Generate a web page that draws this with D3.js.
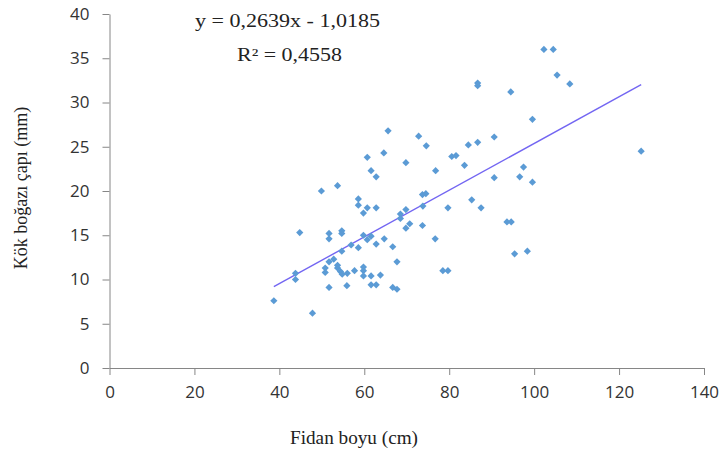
<!DOCTYPE html>
<html>
<head>
<meta charset="utf-8">
<script src="https://cdn.jsdelivr.net/npm/d3@7"></script>
<style>
  body { margin: 0; background: #fff; }
  .axis path, .axis line { stroke: #868686; }
  .axis text { font-family: "Open Sans", sans-serif; font-size: 17px; fill: #333; }
  .title { font-family: "Liberation Serif", serif; font-size: 18px; fill: #222; }
</style>
</head>
<body>
<svg id="chart" width="719" height="455"></svg>
<script>
// Fidan boyu (cm)
const heights = [38.7, 47.8, 43.8, 43.8, 44.8, 49.9, 51.7, 51.7, 51.7, 51.7,
  50.8, 50.8, 52.8, 53.7, 53.7, 53.7, 54.4, 54.8, 54.7, 54.7,
  54.7, 56.0, 55.9, 56.9, 57.7, 58.6, 58.6, 58.6, 59.8, 59.8,
  59.8, 59.8, 59.8, 60.7, 60.7, 60.7, 61.6, 61.6, 61.6, 61.6,
  62.8, 62.8, 62.8, 62.8, 63.8, 64.6, 64.7, 65.6, 66.7, 66.7,
  67.7, 67.7, 68.5, 68.5, 69.8, 69.8, 69.8, 70.7, 72.8, 73.7,
  74.5, 73.8, 73.7, 74.6, 76.7, 76.8, 78.5, 79.7, 79.7, 80.6,
  81.6, 83.6, 84.5, 85.3, 86.7, 86.7, 86.7, 87.5, 90.6, 90.6,
  93.6, 94.6, 94.5, 95.4, 96.6, 97.5, 98.4, 99.6, 99.6, 102.3,
  104.5, 105.4, 108.4, 125.2]
// Kök boğazı çapı (mm)
const diameters = [7.6, 6.2, 10.7, 10.0, 15.3, 20.0, 15.2, 14.6, 12.0, 9.1,
  11.3, 10.8, 12.3, 20.6, 11.6, 11.3, 10.9, 10.6, 15.5, 15.2,
  13.2, 10.7, 9.3, 13.9, 11.0, 19.1, 18.4, 13.6, 17.5, 15.0,
  11.4, 11.0, 10.4, 23.8, 18.1, 14.5, 22.3, 14.9, 10.4, 9.4,
  21.6, 18.1, 14.0, 9.4, 10.5, 24.3, 14.6, 26.8, 13.7, 9.1,
  12.0, 8.9, 17.4, 16.9, 23.2, 17.9, 15.8, 16.3, 26.2, 19.6,
  19.7, 18.3, 16.1, 25.1, 14.6, 22.3, 11.0, 11.0, 18.1, 23.9,
  24.0, 22.9, 25.2, 19.0, 25.5, 32.2, 31.9, 18.1, 26.1, 21.5,
  16.5, 16.5, 31.2, 12.9, 21.6, 22.7, 13.2, 28.1, 21.0, 36.0,
  36.0, 33.1, 32.1, 24.5]

const xTicks = [0, 20, 40, 60, 80, 100, 120, 140]
const yTicks = [0, 5, 10, 15, 20, 25, 30, 35, 40]

const slope = 0.2639
const intercept = -1.0185
const equationText = "y = 0,2639x - 1,0185"
const r2Text = "R² = 0,4558"

const svg = d3.select("#chart")

const xScale = d3.scaleLinear().domain([0, 140]).range([109.5, 704])
const yScale = d3.scaleLinear().domain([0, 40]).range([368, 14])

// axes
svg.append("g")
  .attr("class", "axis")
  .attr("transform", `translate(0, ${yScale(0)})`)
  .call(d3.axisBottom(xScale).tickValues(xTicks).tickSize(7).tickPadding(11).tickSizeOuter(0))

svg.append("g")
  .attr("class", "axis")
  .attr("transform", `translate(${xScale(0)}, 0)`)
  .call(d3.axisLeft(yScale).tickValues(yTicks).tickSize(7).tickPadding(13).tickSizeOuter(0))

const points = heights.map((h, i) => ({ x: h, y: diameters[i] }))

// trend line from min to max x
const xMin = d3.min(heights), xMax = d3.max(heights)
svg.append("line")
  .attr("x1", xScale(xMin))
  .attr("y1", yScale(slope * xMin + intercept))
  .attr("x2", xScale(xMax))
  .attr("y2", yScale(slope * xMax + intercept))
  .attr("stroke", "#7366f2")
  .attr("stroke-width", 1.4)

// diamond markers
const diamond = d3.symbol().type(d3.symbolSquare).size(26)
svg.append("g")
  .selectAll("path")
  .data(points)
  .enter()
  .append("path")
  .attr("d", diamond)
  .attr("transform", d => `translate(${xScale(d.x)}, ${yScale(d.y)}) rotate(45)`)
  .attr("fill", "#5b9bd5")

// equation
svg.append("text")
  .attr("class", "title")
  .attr("x", 195).attr("y", 27)
  .attr("textLength", 185).attr("lengthAdjust", "spacingAndGlyphs")
  .text(equationText)

svg.append("text")
  .attr("class", "title")
  .attr("x", 237).attr("y", 61)
  .attr("textLength", 105).attr("lengthAdjust", "spacingAndGlyphs")
  .text(r2Text)

// axis titles
svg.append("text")
  .attr("class", "title")
  .attr("x", 290).attr("y", 444)
  .attr("textLength", 128).attr("lengthAdjust", "spacingAndGlyphs")
  .text("Fidan boyu (cm)")

svg.append("text")
  .attr("class", "title")
  .attr("transform", "translate(27, 188) rotate(-90)")
  .attr("text-anchor", "middle")
  .text("Kök boğazı çapı (mm)")
</script>
</body>
</html>
